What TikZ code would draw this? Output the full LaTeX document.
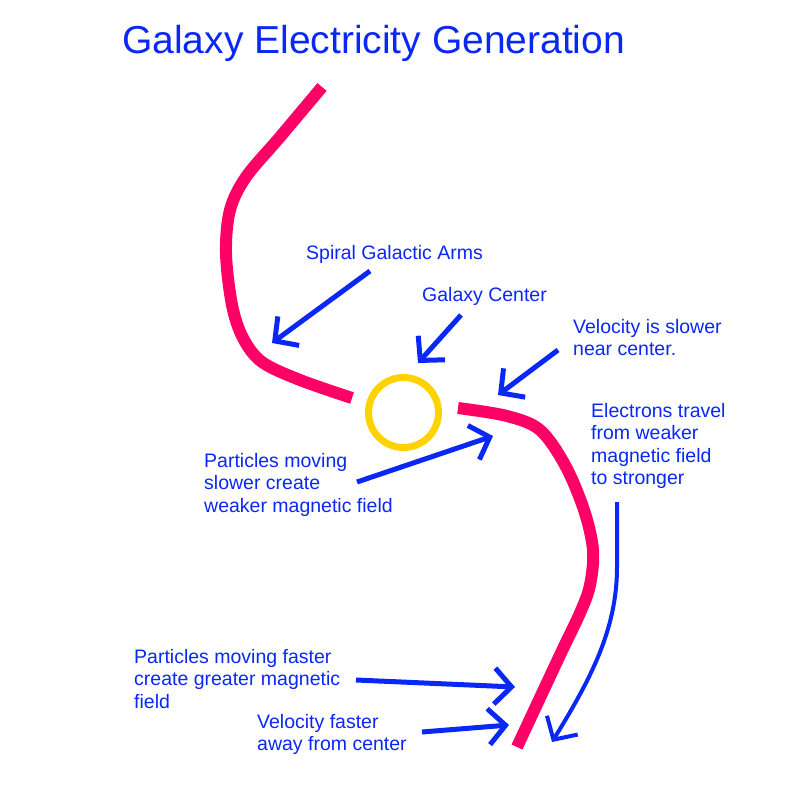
\documentclass[tikz,border=0pt]{standalone}
\usepackage{fontspec}
\setmainfont{Liberation Sans}
\usetikzlibrary{arrows.meta}
\definecolor{lblue}{HTML}{0A28F5}
\definecolor{armred}{HTML}{FF0066}
\definecolor{gold}{HTML}{FFD200}
\tikzset{
  lbl/.style={anchor=north west, inner sep=0pt, align=left, text=lblue,
    font=\fontsize{19.5}{22.5}\selectfont},
  arm/.style={draw=armred, line width=12pt, line cap=butt},
  pointer/.style={draw=lblue, line width=5pt,
    -{Straight Barb[length=17pt,width=36pt,line width=5pt]}},
}
\begin{document}
\begin{tikzpicture}[x=1pt,y=-1pt]
\useasboundingbox (0,0) rectangle (800,800);
\fill[white] (0,0) rectangle (800,800);
% title
\node[anchor=base west, inner sep=0pt, text=lblue, font=\fontsize{39}{44}\selectfont] (title) at (122,53) {Galaxy Electricity Generation};
% spiral arms
\draw[arm] plot[smooth, tension=0.55] coordinates {(322,87) (280,137) (246,177) (230,210) (226,253) (232,305) (243,338) (262,362) (300,380) (352,398)};
\draw[arm] plot[smooth, tension=0.55] coordinates {(458,408) (507,416) (540,430) (565,465) (584,510) (593,550) (590,585) (580,613) (560,655) (517,747)};
% galaxy center
\node[circle, draw=gold, line width=7pt, minimum size=70pt, inner sep=0pt] (center) at (403.5,412.5) {};
% labels
\node[lbl] (spiral) at (306,245) {Spiral Galactic Arms};
\node[lbl] (gcenter) at (422,287) {Galaxy Center};
\node[lbl] (vslow) at (573,319) {Velocity is slower\\near center.};
\node[lbl] (electrons) at (591,403) {Electrons travel\\from weaker\\magnetic field\\to stronger};
\node[lbl] (pslow) at (204,453) {Particles moving\\slower create\\weaker magnetic field};
\node[lbl] (pfast) at (134,649) {Particles moving faster\\create greater magnetic\\field};
\node[lbl] (vfast) at (257,714) {Velocity faster\\away from center};
% arrow end points
\coordinate (a1s) at (370,271); \coordinate (a1e) at (272,343);
\coordinate (a2s) at (461,315); \coordinate (a2e) at (418,363);
\coordinate (a3s) at (558,350); \coordinate (a3e) at (498,395);
\coordinate (a4s) at (357,482); \coordinate (a4e) at (493,436);
\coordinate (a5s) at (356,680); \coordinate (a5e) at (515,687);
\coordinate (a6s) at (422,732); \coordinate (a6e) at (509,725);
\coordinate (a7s) at (617,502); \coordinate (a7m) at (617,567); \coordinate (a7e) at (552,742);
\draw[pointer] (a1s) -- (a1e);
\draw[pointer] (a2s) -- (a2e);
\draw[pointer] (a3s) -- (a3e);
\draw[pointer] (a4s) -- (a4e);
\draw[pointer] (a5s) -- (a5e);
\draw[pointer] (a6s) -- (a6e);
\draw[draw=lblue, line width=4pt, -{Straight Barb[length=17pt,width=36pt,line width=4pt]}]
  (a7s) -- (a7m) .. controls (617,630) and (590,680) .. (a7e);
\end{tikzpicture}
\end{document}
